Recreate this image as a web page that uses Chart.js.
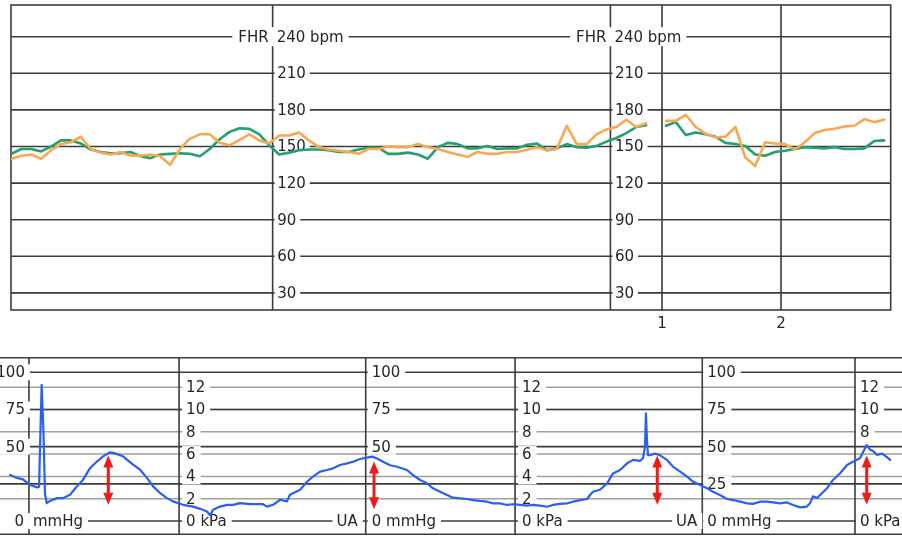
<!DOCTYPE html>
<html>
<head>
<meta charset="utf-8">
<script src="https://cdn.jsdelivr.net/npm/chart.js@4.4.1/dist/chart.umd.min.js"></script>
<style>
html,body{margin:0;padding:0;background:#fff;}
#wrap{position:relative;width:902px;height:538px;overflow:hidden;background:#fff;}
.pane{position:absolute;left:0;width:902px;}
</style>
</head>
<body>
<div id="wrap">
  <div class="pane" style="top:0;height:340px"><canvas id="fhr" width="902" height="340"></canvas></div>
  <div class="pane" style="top:340px;height:198px"><canvas id="ua" width="902" height="198"></canvas></div>
</div>
<script>
// ================= DATA =================
// FHR sampling times (seconds, relative to the start of minute 0)
const fhrTime = [-268,-263,-258,-253,-248,-243,-238,-233,-228,-223,
  -218,-213,-208,-203,-198,-193,-188,-183,-178,-173,
  -168,-163,-158,-153,-148,-143,-138,-133,-128,-123,
  -118,-113,-108,-103,-98,-93,-88,-83,-78,-73,
  -68,-63,-58,-53,-48,-43,-38,-33,-28,-23,
  -18,-13,-8,-3,2,7,12,17,22,27,
  32,37,42,47,52,57,62,67,72,77,
  82,87,92,97,102,107,112,117,122,127,
  132,137,142,147,152,157,162,167,172];
// FHR 1 (green), bpm
const fhr1 = [144,148,148,146,150,155,155,152.5,147.5,145.5,
  144.5,144.5,145.5,142,140.5,143.5,144,144.5,144,142,
  148,156,162,165,164.5,160,151,143.5,145,147,
  147.5,147.5,147,145.5,145.5,147.5,149,149,144,144,
  145,143.5,140,149.5,153,152,148.5,148.5,150.5,148,
  148.5,148.5,151.5,152.5,147,148.5,152,149.5,149,150.5,
  154,157,161,166,167.5,null,167,170,159.5,161.5,
  160,158,153,152,150.5,143.5,142.5,145.5,146.5,148,
  149.5,149,148.5,149.5,148,148,148.5,154.5,155];
// FHR 2 (orange), bpm
const fhr2 = [140,142.5,143.5,140,147,152,153.5,158,148,145,
  143.5,145.5,142.5,142.5,143.5,142,135,148,156.5,160,
  160,153,151,155.5,160,155,152.5,159,159,161.5,
  155,149.5,147.5,146.5,145.5,144,148,148,150,149.5,
  149.5,152,149.5,148,145.5,143.5,141.5,145.5,144,144,
  145.5,145.5,147.3,149.5,146.7,148,167,152,152,160,
  164,166,172,166,169,null,171,171,176,166,
  160.5,157.5,158,166,141,134,153.5,152.5,152,147.5,
  153.5,161,163.5,164.5,166.5,167,172.5,170,172];
const fhrScaleTicks = [30,60,90,120,150,180,210,240];   // bpm
const minuteTicks = [1,2];                               // minutes
const fhrScaleCols = [-136.3,34.0];                      // s, where FHR scale is printed

// Uterine activity (blue), seconds / mmHg
const uaTime = [-268.7,-265.2,-262.2,-258.7,-255.1,-254.1,-253.6,-252.8,-251.9,-251.1,
  -250.2,-248.6,-245.0,-242.0,-238.5,-235.0,-231.9,-228.4,-224.9,-221.8,
  -218.3,-215.8,-211.8,-206.7,-203.2,-199.7,-196.6,-193.1,-189.6,-186.6,
  -181.5,-176.5,-172.9,-169.4,-167.9,-166.4,-162.9,-159.3,-156.3,-152.8,
  -147.7,-141.2,-139.2,-136.1,-132.6,-129.1,-127.6,-124.0,-122.5,-119.0,
  -116.0,-112.4,-108.9,-105.9,-102.4,-98.8,-95.8,-92.3,-88.7,-86.2,
  -83.7,-80.7,-77.1,-73.6,-68.6,-65.5,-62.0,-58.5,-55.5,-51.9,
  -48.4,-45.4,-41.8,-38.3,-35.3,-31.8,-28.2,-25.2,-21.7,-18.2,
  -15.1,-11.6,-8.1,-5.0,-1.5,2.0,5.0,8.6,12.1,15.1,
  18.7,22.2,23.7,25.2,28.7,32.3,35.3,38.8,42.4,45.4,
  48.9,50.4,51.4,51.9,52.4,52.9,53.9,56.5,59.0,62.5,
  65.5,69.1,72.6,75.6,79.2,82.7,85.7,89.2,92.8,95.8,
  99.3,102.9,105.9,109.4,112.9,116.0,119.5,123.0,126.1,129.6,
  133.1,134.6,136.1,138.2,139.7,143.2,146.2,149.7,153.3,156.3,
  159.8,163.2,164.9,166.4,168.4,170.9,173.4,175.0];
const uaMmHg = [31,29,28,24.2,22.6,23,50,91.5,60,18,
  12,13.5,15.4,15.4,17.7,23.3,27.8,35.6,40,43.5,
  46.2,45.5,43.5,37.9,34.5,29,23.3,18.8,15.4,13.2,
  10.9,9.7,8.2,6.4,3.8,7.5,9.7,10.9,10.9,12,
  11.3,11.3,9.7,10.9,14.3,13.2,17.7,20,21,26.4,
  29.8,33.2,34.3,35.4,37.7,38.8,39.9,41.7,42.6,43.3,
  42,39.9,37.5,36.5,34.3,30.9,27.6,25.4,22,19.7,
  17.5,15.7,15.2,14.8,14.1,13.5,13,11.9,11.9,10.8,
  11.3,10.8,10.4,10.8,10.4,9.6,10.8,11.5,11.9,13,
  14.1,14.8,17.5,19.7,21,25.3,32,34.3,38.8,41.1,
  40.5,42.2,50,72.4,55,44.5,44.2,45.3,44.2,41.1,
  36.6,33.2,29.8,26.5,24.2,22,19.7,17.5,14.8,14.1,
  13,11.9,11.5,13,13,12.5,11.9,12.5,10.8,9.2,
  9.7,11.9,16.6,15.5,17.5,22,27.6,32,37.7,39.9,
  42.2,51.1,48,47.1,44.5,45.3,43,41.1];
// contraction markers (red double arrows)
const contractionTime = [-219.2,-85.2,57.6,163.2];
const contractionTop  = [44,40,44,44];
const contractionBase = [11,8,11,11];
const mmHgTicks = [0,25,50,75,100];
const kPaTicks  = [2,4,6,8,10,12];
const uaScaleCols = [-259.2,-183.5,-89.4,-14.1,80.3,157.3]; // s
const uaColLabels = [
  {unit:'mmHg', side:'left',  ticks:[100,75,50,0]},
  {unit:'kPa',  side:'right', ticks:[12,10,8,6,4,2,0]},
  {unit:'mmHg', side:'right', ticks:[100,75,50,0], ua:true},
  {unit:'kPa',  side:'right', ticks:[12,10,8,6,4,2,0]},
  {unit:'mmHg', side:'right', ticks:[100,75,50,25,0], ua:true},
  {unit:'kPa',  side:'right', ticks:[12,10,8,0]}
];
const KPA_TO_MMHG = 7.50062;

// ================= STYLE =================
const LINE = '#3c3c3c', LIGHT = '#a0a0a0', TEXT = '#262626';
const FONT = '15px "DejaVu Sans", Verdana, sans-serif';
const GREEN = '#22a06f', ORANGE = '#f8a852', BLUE = '#2b5ff2', RED = '#f01a1a';

function whiteBox(ctx, x0, x1, yc, h) {
  ctx.fillStyle = '#fff';
  ctx.fillRect(x0, yc - h / 2, x1 - x0, h);
}

// ---------- FHR frame plugin ----------
const fhrFrame = {
  id: 'fhrFrame',
  beforeDatasetsDraw(chart) {
    const {ctx, chartArea: a, scales: {x, y}} = chart;
    ctx.save();
    ctx.lineWidth = 1.6; ctx.strokeStyle = LINE;
    ctx.beginPath();
    fhrScaleTicks.forEach(v => { const py = y.getPixelForValue(v); ctx.moveTo(a.left, py); ctx.lineTo(a.right, py); });
    fhrScaleCols.concat(minuteTicks.map(m => m * 60)).forEach(t => {
      const px = x.getPixelForValue(t); ctx.moveTo(px, a.top); ctx.lineTo(px, a.bottom);
    });
    ctx.stroke();
    ctx.strokeRect(a.left, a.top, a.right - a.left, a.bottom - a.top);

    ctx.font = FONT; ctx.textBaseline = 'middle';
    fhrScaleCols.forEach(t => {
      const px = x.getPixelForValue(t);
      fhrScaleTicks.forEach(v => {
        const py = y.getPixelForValue(v);
        if (v === 240) {
          const l = 'FHR', r = '240 bpm';
          const wl = ctx.measureText(l).width, wr = ctx.measureText(r).width;
          whiteBox(ctx, px - 4 - wl - 6, px + 4 + wr + 5, py, 19);
          ctx.fillStyle = TEXT;
          ctx.textAlign = 'right'; ctx.fillText(l, px - 4, py + 1);
          ctx.textAlign = 'left'; ctx.fillText(r, px + 4, py + 1);
        } else {
          const s = String(v), w = ctx.measureText(s).width;
          whiteBox(ctx, px + 2, px + 4.5 + w + 4, py, 16);
          ctx.fillStyle = TEXT; ctx.textAlign = 'left';
          ctx.fillText(s, px + 4.5, py + 1);
        }
      });
    });
    ctx.fillStyle = TEXT; ctx.textAlign = 'center';
    minuteTicks.forEach(m => ctx.fillText(String(m), x.getPixelForValue(m * 60), a.bottom + 14));
    ctx.restore();
  }
};

// ---------- UA frame plugin ----------
const uaFrame = {
  id: 'uaFrame',
  beforeDatasetsDraw(chart) {
    const {ctx, chartArea: a, scales: {x, y}} = chart;
    ctx.save();
    ctx.lineWidth = 1.5; ctx.strokeStyle = LIGHT;
    ctx.beginPath();
    kPaTicks.forEach(k => { const py = y.getPixelForValue(k * KPA_TO_MMHG); ctx.moveTo(a.left, py); ctx.lineTo(a.right, py); });
    ctx.stroke();
    ctx.lineWidth = 1.6; ctx.strokeStyle = LINE;
    ctx.beginPath();
    mmHgTicks.forEach(v => { const py = y.getPixelForValue(v); ctx.moveTo(a.left, py); ctx.lineTo(a.right, py); });
    ctx.moveTo(a.left, a.top + 0.8); ctx.lineTo(a.right, a.top + 0.8);
    ctx.moveTo(a.left, a.bottom - 0.8); ctx.lineTo(a.right, a.bottom - 0.8);
    uaScaleCols.forEach(t => { const px = x.getPixelForValue(t); ctx.moveTo(px, a.top); ctx.lineTo(px, a.bottom); });
    ctx.stroke();

    ctx.font = FONT; ctx.textBaseline = 'middle';
    const put = (s, px, py, align, toEdge) => {
      const w = ctx.measureText(s).width;
      const x0 = align === 'left' ? px : px - w;
      whiteBox(ctx, toEdge ? a.left : x0 - 4, x0 + w + 5, py, 16);
      ctx.fillStyle = TEXT; ctx.textAlign = align; ctx.fillText(s, px, py + 1);
    };
    const offs = [4, 7, 6, 7, 5, 5];
    uaColLabels.forEach((c, i) => {
      const px = x.getPixelForValue(uaScaleCols[i]);
      const off = offs[i];
      c.ticks.forEach(v => {
        const mm = c.unit === 'kPa' ? v * KPA_TO_MMHG : v;
        const py = y.getPixelForValue(mm);
        if (c.side === 'left') {
          if (v === 0) { put('0', px - off - 1, py, 'right', true); put(c.unit, px + off, py, 'left'); }
          else put(String(v), px - off, py, 'right', true);
        } else {
          put(v === 0 ? '0 ' + c.unit : String(v), px + off, py, 'left');
        }
      });
      if (c.ua) put('UA', px - (i === 2 ? 8 : 5), y.getPixelForValue(0), 'right');
    });
    ctx.restore();
  },
  afterDatasetsDraw(chart) {
    const {ctx, scales: {x, y}} = chart;
    ctx.save();
    ctx.strokeStyle = RED; ctx.fillStyle = RED; ctx.lineWidth = 3;
    contractionTime.forEach((t, i) => {
      const px = x.getPixelForValue(t);
      const pt = y.getPixelForValue(contractionTop[i]);
      const pb = y.getPixelForValue(contractionBase[i]);
      ctx.beginPath(); ctx.moveTo(px, pt + 8); ctx.lineTo(px, pb - 8); ctx.stroke();
      ctx.beginPath(); ctx.moveTo(px, pt); ctx.lineTo(px - 5, pt + 12); ctx.lineTo(px + 5, pt + 12); ctx.closePath(); ctx.fill();
      ctx.beginPath(); ctx.moveTo(px, pb); ctx.lineTo(px - 5, pb - 12); ctx.lineTo(px + 5, pb - 12); ctx.closePath(); ctx.fill();
    });
    ctx.restore();
  }
};

const common = {
  responsive: false, animation: false, devicePixelRatio: 1, events: [],
  plugins: {legend: {display: false}, tooltip: {enabled: false}},
  elements: {point: {radius: 0}, line: {tension: 0, borderJoinStyle: 'round', borderCapStyle: 'round'}}
};

new Chart(document.getElementById('fhr'), {
  type: 'line',
  data: {datasets: [
    {label: 'FHR2', data: fhrTime.map((t, i) => ({x: t, y: fhr2[i]})), borderColor: ORANGE, borderWidth: 2.6, spanGaps: false},
    {label: 'FHR1', data: fhrTime.map((t, i) => ({x: t, y: fhr1[i]})), borderColor: GREEN, borderWidth: 2.6, spanGaps: false}
  ]},
  options: Object.assign({}, common, {
    layout: {padding: {left: 11, right: 11.3, top: 5, bottom: 30}},
    scales: {
      x: {type: 'linear', min: -268.2, max: 175.3, display: false},
      y: {type: 'linear', min: 16, max: 266, display: false}
    }
  }),
  plugins: [fhrFrame]
});

new Chart(document.getElementById('ua'), {
  type: 'line',
  data: {datasets: [
    {label: 'UA', data: uaTime.map((t, i) => ({x: t, y: uaMmHg[i]})), borderColor: BLUE, borderWidth: 2.2}
  ]},
  options: Object.assign({}, common, {
    layout: {padding: {left: 0, right: 0, top: 17, bottom: 3}},
    scales: {
      x: {type: 'linear', min: -273.8, max: 181.0, display: false},
      y: {type: 'linear', min: -9.4, max: 110.3, display: false}
    }
  }),
  plugins: [uaFrame]
});
</script>
</body>
</html>
